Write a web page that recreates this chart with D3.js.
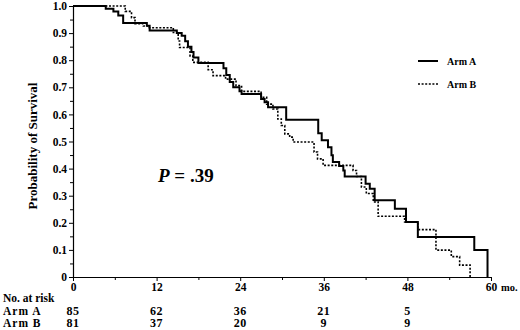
<!DOCTYPE html>
<html>
<head>
<meta charset="utf-8">
<script src="https://cdn.jsdelivr.net/npm/d3@7"></script>
<style>
  body { margin: 0; background: #fff; }
  svg text { font-family: "Liberation Serif", serif; font-weight: bold; fill: #000; }
  .axis path, .axis line { stroke: #000; }
</style>
</head>
<body>
<div id="chart-area"></div>
<script>

// Kaplan-Meier steps: time (mo.) -> survival after the step
let armATimes = [4.7, 5.8, 6.5, 7.2, 10.6, 11.0, 14.9, 15.6, 16.1, 16.5, 17.0, 17.3, 18.0,
	21.6, 22.0, 22.5, 23.0, 23.9, 24.2, 27.0, 27.5, 28.0, 30.6, 35.2, 35.7, 36.6, 37.1,
	37.3, 38.2, 38.8, 39.0, 42.0, 42.6, 43.3, 46.2, 47.8, 49.5, 57.6, 59.5];
let armASurv = [0.99, 0.98, 0.965, 0.937, 0.927, 0.91, 0.90, 0.89, 0.87, 0.85, 0.83, 0.81, 0.79,
	0.77, 0.745, 0.72, 0.70, 0.685, 0.675, 0.657, 0.645, 0.626, 0.58, 0.53, 0.505, 0.479, 0.449,
	0.424, 0.41, 0.393, 0.371, 0.344, 0.326, 0.283, 0.252, 0.203, 0.148, 0.10, 0];

let armBTimes = [7.5, 8.4, 8.9, 10.1, 10.8, 14.4, 15.1, 15.3, 16.8, 17.2, 19.4, 20.1, 21.9,
	23.4, 24.2, 27.0, 27.8, 28.7, 29.4, 29.9, 30.4, 31.1, 31.6, 34.6, 35.1, 35.9, 40.2, 40.7,
	41.4, 42.1, 43.1, 43.8, 47.6, 49.5, 52.1, 54.3, 55.5, 57.0];
let armBSurv = [0.98, 0.957, 0.935, 0.926, 0.92, 0.902, 0.871, 0.847, 0.816, 0.792, 0.765, 0.743, 0.73,
	0.706, 0.685, 0.663, 0.638, 0.62, 0.583, 0.559, 0.528, 0.516, 0.498, 0.461, 0.436, 0.412, 0.393, 0.371,
	0.332, 0.308, 0.277, 0.224, 0.203, 0.175, 0.099, 0.075, 0.044, 0];

// number at risk table
let riskTimes = [0, 12, 24, 36, 48];
let riskA = [85, 62, 36, 21, 5];
let riskB = [81, 37, 20, 9, 9];

let xTicks = [0, 12, 24, 36, 48, 60];
let yTicks = [0, 0.1, 0.2, 0.3, 0.4, 0.5, 0.6, 0.7, 0.8, 0.9, 1.0];

let legendLabels = ["Arm A", "Arm B"];

let serif = "'Liberation Serif', serif";

// SVG drawing area
let svg = d3.select("#chart-area").append("svg")
	.attr("width", 520)
	.attr("height", 330)
	.attr("font-family", serif);

let x = d3.scaleLinear()
	.domain([0, 60])
	.range([73, 491]);

let y = d3.scaleLinear()
	.domain([0, 1])
	.range([277, 6]);

// minor ticks first so major ones sit on top
svg.append("g")
	.attr("class", "axis")
	.attr("transform", "translate(0,277)")
	.call(d3.axisBottom(x).tickValues(d3.range(6, 60, 12)).tickSize(3).tickFormat(""))
	.select(".domain").remove();

svg.append("g")
	.attr("class", "axis")
	.attr("transform", "translate(73,0)")
	.call(d3.axisLeft(y).tickValues(d3.range(0.05, 1, 0.1)).tickSize(3).tickFormat(""))
	.select(".domain").remove();

// x axis
let xAxis = svg.append("g")
	.attr("class", "axis")
	.attr("transform", "translate(0,277)")
	.call(d3.axisBottom(x).tickValues(xTicks).tickSize(4).tickSizeOuter(0).tickPadding(2));
xAxis.attr("font-family", serif).attr("font-size", 11.5);
xAxis.select(".domain").attr("stroke-width", 1.2);

svg.append("text")
	.attr("x", 501)
	.attr("y", 291)
	.style("font-size", "10.5px")
	.text("mo.");

// y axis
let yAxis = svg.append("g")
	.attr("class", "axis")
	.attr("transform", "translate(73,0)")
	.call(d3.axisLeft(y).tickValues(yTicks).tickSize(4).tickSizeOuter(0).tickPadding(2)
		.tickFormat(d => d === 0 ? "0" : d3.format(".1f")(d)));
yAxis.attr("font-family", serif).attr("font-size", 11.5);
yAxis.select(".domain").attr("stroke-width", 1.2);

svg.append("text")
	.attr("transform", "translate(37,146) rotate(-90)")
	.attr("text-anchor", "middle")
	.style("font-size", "13px")
	.text("Probability of Survival");

// survival curves
function steps(times, surv) {
	let pts = [{t: 0, s: 1}];
	times.forEach((t, i) => pts.push({t: t, s: surv[i]}));
	return pts;
}

let line = d3.line()
	.curve(d3.curveStepAfter)
	.x(d => x(d.t))
	.y(d => y(d.s));

svg.append("path")
	.datum(steps(armBTimes, armBSurv))
	.attr("fill", "none")
	.attr("stroke", "#000")
	.attr("stroke-width", 1.6)
	.attr("stroke-dasharray", "2,1.6")
	.attr("d", line);

svg.append("path")
	.datum(steps(armATimes, armASurv))
	.attr("fill", "none")
	.attr("stroke", "#000")
	.attr("stroke-width", 2)
	.attr("d", line);

// legend
let legend = svg.selectAll(".legend")
	.data(legendLabels)
	.enter().append("g")
	.attr("class", "legend")
	.attr("transform", (d, i) => "translate(418," + (61 + i * 23) + ")");

legend.append("line")
	.attr("x1", 0).attr("x2", 20)
	.attr("stroke", "#000")
	.attr("stroke-width", (d, i) => i === 0 ? 2 : 1.6)
	.attr("stroke-dasharray", (d, i) => i === 0 ? null : "2,1.6");

legend.append("text")
	.attr("x", 29)
	.attr("y", 4)
	.style("font-size", "10px")
	.text(d => d);

// p value
let pText = svg.append("text")
	.attr("x", 158)
	.attr("y", 182)
	.style("font-size", "19px");
pText.append("tspan").style("font-style", "italic").text("P");
pText.append("tspan").text(" = .39");

// number at risk
svg.append("text")
	.attr("x", 3)
	.attr("y", 301.5)
	.style("font-size", "11.5px")
	.text("No. at risk");

let rows = [["Arm A", riskA, 314.5], ["Arm B", riskB, 327]];
rows.forEach(function(r) {
	svg.append("text")
		.attr("x", 3)
		.attr("y", r[2])
		.style("font-size", "11.5px")
		.style("letter-spacing", "1px")
		.text(r[0]);
	svg.selectAll(null)
		.data(r[1])
		.enter().append("text")
		.attr("x", (d, i) => x(riskTimes[i]))
		.attr("y", r[2])
		.attr("text-anchor", "middle")
		.style("font-size", "12px")
		.style("letter-spacing", "0.5px")
		.text(d => d);
});

</script>
</body>
</html>
